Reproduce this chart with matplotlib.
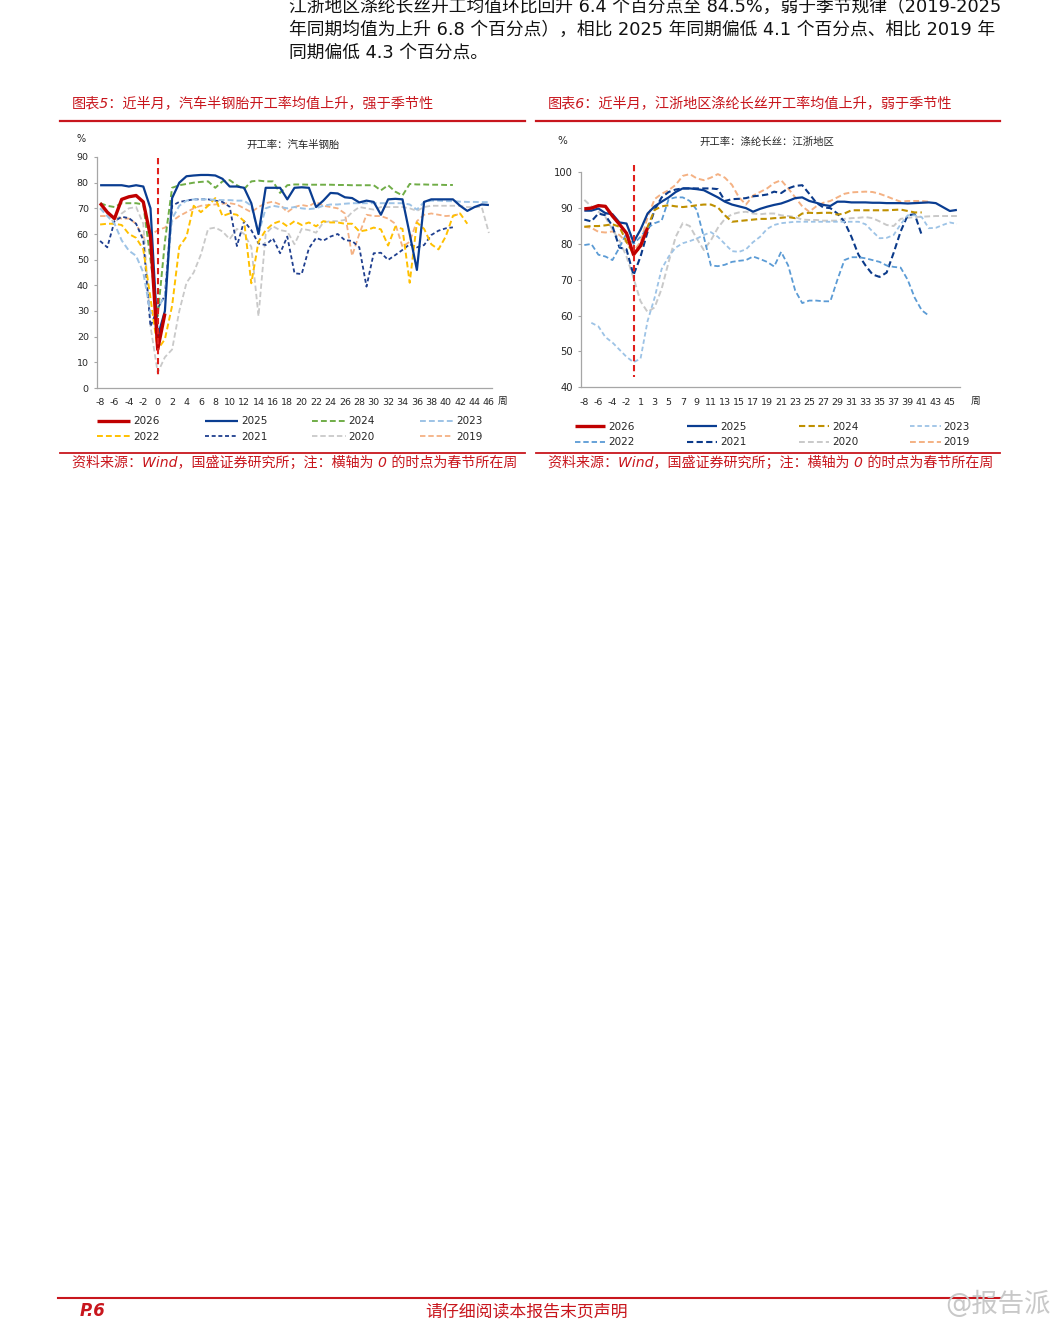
import numpy as np
import matplotlib
matplotlib.use("Agg")
from matplotlib import pyplot as plt
from matplotlib.lines import Line2D

plt.rcParams['font.family'] = ['DejaVu Sans', 'Noto Sans CJK SC']
plt.rcParams['axes.unicode_minus'] = False

W, H = 1061, 1320
RED = '#C8161D'

# ---- left chart data: 汽车半钢胎开工率, weeks -8..46 ----
weeks_l = list(range(-8, 47))
l2026 = [72, 68.5, 66, 73.5, 74.5, 75, 72.5, 59, 15, 29]
l2025 = [79, 79, 79, 79, 78.5, 79, 78.5, 70,
         20, 30, 74, 80, 82.5, 82.8, 83, 83, 82.8, 81.5,
         78.5, 78.5, 78, 72, 60, 78, 78, 78, 73.5, 78,
         78.2, 78, 70.5, 73, 76, 75.8, 74.3, 74, 72.3, 73,
         72.5, 67.5, 73.5, 73.7, 73.5, 60, 46, 72.5, 73.5, 73.5,
         73.5, 73.5, 71, 69, 70.5, 71.5, 71.3]
l2024 = [72, 71, 70.5, 72, 72, 72, 71.5, 50,
         28, 57, 78, 79, 79.5, 80, 80.3, 80.5, 78, 80.5,
         81, 79, 77.5, 80.5, 80.8, 80.5, 80.5, 76, 79, 79.3,
         79.3, 79.2, 79.2, 79.2, 79.2, 79.1, 79.1, 79, 79, 79,
         79, 77, 79, 76.5, 75, 79.5, 79.3, 79.3, 79.2, 79.2,
         79.1, 79.1]
l2023 = [70, 67, 64, 57.5, 53.5, 51.5, 45, 29,
         31, 36, 66, 71, 73, 73.5, 73.5, 73.5, 73.3, 73.2,
         73.2, 73, 73, 71, 60, 70, 71, 70.5, 70, 70.5,
         70, 69.7, 70, 71, 71.5, 71.5, 71.8, 72, 72, 72,
         72, 72, 72, 72, 72, 71.5, 69.5, 72.5, 73, 73,
         72.8, 72.8, 72.6, 72.5, 72.5, 72.4, 72.4]
l2022 = [63.7, 64, 64, 63.5, 60, 58.5, 54, 35,
         15, 19, 32, 55, 59, 71, 68.5, 71, 74, 67,
         68, 67.5, 65, 40.8, 57, 61.5, 64, 65, 63, 65,
         63.5, 64.5, 63, 65, 64.5, 64.5, 64, 64, 61, 61.5,
         62.5, 61.8, 55.5, 62.8, 62, 41, 64.5, 62, 56, 54,
         59, 67, 68, 64]
l2021 = [57.3, 54.8, 65, 66.7, 66.2, 64, 57.6, 24,
         31, 36, 71, 72.5, 73, 73.5, 73.5, 73.5, 73, 72.5,
         70.6, 55.3, 65, 61.5, 56.3, 55.7, 58.3, 52.5, 59, 44.7,
         44.4, 54.4, 58.5, 57.4, 59, 60, 57.6, 57.3, 54.8, 39.5,
         52.5, 52.7, 49.9, 51.8, 53.8, 56, 54.8, 55.7, 59.6, 61.3,
         62.2, 62.6]
l2020 = [70, 68, 64, 68, 70, 70.5, 64, 24,
         6, 12, 15, 30, 41, 45, 52, 62, 62.5, 61,
         58, 62, 60, 55, 28, 60, 63, 61.5, 61, 56,
         62, 61.5, 60.5, 64.5, 65, 65, 65.5, 68.5, 70.5, 70,
         69.5, 70.5, 70.5, 70.5, 70.5, 70, 69, 70.5, 71, 71,
         71, 71, 71, 70.5, 70.5, 70.6, 60.4]
l2019 = [67, 67, 66.5, 66, 66, 64, 58.5, 59.5,
         61.5, 62.5, 65, 67, 68.5, 70, 71, 71.3, 71.5, 71.8,
         72, 71.5, 70, 68.5, 70.5, 72, 72.6, 71.5, 68.5, 70.5,
         71.3, 70.8, 72.5, 71, 70.5, 70, 68, 51.5, 60, 67.5,
         67, 67, 66, 64, 55, 57, 65, 67.5, 68, 67.5,
         67, 67.2, 67.8]

# ---- right chart data: 涤纶长丝江浙地区开工率, weeks -8..-1, 1..46 ----
weeks_r = list(range(-8, 0)) + list(range(1, 47))
r2026 = [89.8, 90.0, 90.7, 90.5, 87.8, 85.5, 83, 77, 79.5, 84.5]
r2025 = [89.3, 89.3, 89.9, 88.6, 88.3, 86, 85.7, 80.5, 84, 88.5,
         90.5, 91.8, 93, 94.5, 95.5, 95.5, 95.3, 95, 94, 93,
         91.8, 91, 90.5, 90, 89, 89.8, 90.4, 90.9, 91.3, 92,
         92.8, 93, 92, 91.5, 90.9, 90.6, 91.8, 91.8, 91.6, 91.6,
         91.6, 91.5, 91.5, 91.4, 91.4, 91.4, 91.3, 91.4, 91.5, 91.6,
         91.4, 90.3, 89.2, 89.5]
r2024 = [84.8, 85, 85, 85.2, 85.5, 84.8, 80.6, 77.2, 79, 84.8,
         89.5, 90.5, 90.8, 90.5, 90.3, 90.5, 90.8, 91, 91, 90.2,
         88, 86.2, 86.4, 86.6, 86.8, 87, 87, 87.2, 87.3, 87.5,
         87.2, 88.5, 88.7, 88.6, 88.7, 88.7, 88.2, 88.5, 89.4, 89.4,
         89.4, 89.4, 89.4, 89.4, 89.5, 89.6, 89.2, 88.8, 88.8]
r2023 = [np.nan, 58, 57, 54, 52.5, 50.5, 48.5, 47, 48, 58.5,
         65, 73, 76.5, 79, 80.2, 80.8, 81.5, 82.5, 83.3, 82,
         80, 78, 77.8, 78.5, 80.5, 82, 84.2, 85.3, 85.8, 86,
         86.2, 86.2, 86.2, 86.2, 86.2, 86.2, 86.2, 86.2, 86.2, 86.2,
         85.5, 83.5, 81.6, 81.7, 82.5, 85.5, 88, 88, 87.5, 84.4,
         84.5, 85.3, 86, 85.6]
r2022 = [79.7, 80, 77, 76.5, 75.5, 79, 83, 80, 82, 84.5,
         85.8, 86.5, 92.5, 93, 93, 92, 89.5, 82, 74, 73.8,
         74.2, 75, 75.3, 75.5, 76.5, 75.8, 75, 73.7, 77.8, 74,
         67, 63.5, 64.2, 64.2, 64, 64, 70, 75.5, 76.3, 76.3,
         76, 75.5, 75, 74, 73.6, 73.4, 70, 65, 61.5, 60]
r2021 = [86.8, 86.3, 88.5, 88, 85, 79, 78.5, 71.3, 76.5, 83.4,
         89.5, 93, 94.5, 95.2, 95.5, 95.5, 95.5, 95.5, 95.5, 95.3,
         92, 92.5, 92.6, 92.8, 93.3, 93.5, 93.8, 94.6, 94.2, 95.5,
         96.2, 96.4, 94, 91.5, 90.2, 90, 88.5, 86.2, 82, 77,
         74, 71.5, 70.8, 72, 77.5, 83.5, 88, 88.3, 82.5]
r2020 = [92.3, 90.5, 89, 87.5, 84, 81, 76.5, 70.5, 64, 61,
         62.3, 67.5, 75, 82, 85.8, 85, 81.5, 78.3, 81, 84.5,
         87, 88.3, 88.8, 89, 88.5, 88.3, 88.5, 88.5, 88, 87.8,
         87.5, 86.8, 86.7, 86.7, 86.5, 86.5, 86.5, 87, 87.2, 87.3,
         87.5, 87.2, 86.3, 85.3, 85, 87, 87.3, 87.5, 87.6, 87.7,
         87.8, 87.8, 87.8, 87.8]
r2019 = [84.8, 84.5, 83.4, 83.2, 83.5, 82.5, 80.5, 78, 80.5, 87.5,
         92.5, 94, 95, 96.5, 99, 99.5, 98.3, 97.8, 98.5, 99.5,
         98.5, 96.5, 93, 91, 93.5, 94.5, 95.5, 97, 97.8, 95.5,
         93, 90.5, 89, 90.5, 91.5, 92, 93, 94, 94.4, 94.5,
         94.6, 94.5, 94, 93.3, 92.5, 91.8, 92, 92, 92, 91.8]

years = ['2026', '2025', '2024', '2023', '2022', '2021', '2020', '2019']


def box(l, t, r, b):
    return [l / W, 1 - b / H, (r - l) / W, (b - t) / H]


def hline(x0, x1, y, lw, color=RED):
    fig.add_artist(Line2D([x0 / W, x1 / W], [1 - y / H, 1 - y / H],
                          color=color, lw=lw, transform=fig.transFigure))


def style_axes(ax):
    for s in ['top', 'right']:
        ax.spines[s].set_visible(False)
    for s in ['left', 'bottom']:
        ax.spines[s].set_color('#A6A6A6')
        ax.spines[s].set_linewidth(0.9)
    ax.tick_params(axis='y', direction='out', length=2.5, width=0.8,
                   color='#A6A6A6', labelsize=6.8, labelcolor='#262626', pad=3)
    ax.tick_params(axis='x', length=0, labelsize=6.8, labelcolor='#262626', pad=7)


def draw_series(ax, x, series, styles):
    handles = {}
    for yr in years:
        vals = series[yr]
        color, lw, dash, z = styles[yr]
        ln, = ax.plot(x[:len(vals)], vals, color=color, lw=lw, zorder=z,
                      solid_capstyle='butt', dash_capstyle='butt')
        if dash is not None:
            ln.set_linestyle((0, dash))
        handles[yr] = ln
    return handles


def add_legend(ax, handles, x0, y0, colsp, hlen):
    order = ['2026', '2022', '2025', '2021', '2024', '2020', '2023', '2019']
    leg = ax.legend([handles[k] for k in order], order, ncol=4, frameon=False,
                    loc='upper left', bbox_to_anchor=(x0 / W, 1 - y0 / H),
                    bbox_transform=fig.transFigure, fontsize=7.5,
                    handlelength=hlen, handletextpad=0.3, columnspacing=colsp,
                    labelspacing=0.5, borderpad=0, borderaxespad=0)
    for t in leg.get_texts():
        t.set_color('#262626')


fig = plt.figure(figsize=(W / 100, H / 100), dpi=100)

# ---- body text above charts ----
body = ['江浙地区涤纶长丝开工均值环比回升 6.4 个百分点至 84.5%，弱于季节规律（2019-2025',
        '年同期均值为上升 6.8 个百分点），相比 2025 年同期偏低 4.1 个百分点、相比 2019 年',
        '同期偏低 4.3 个百分点。']
for i, line in enumerate(body):
    fig.text(289 / W, 1 - (7 + 23 * i) / H, line, fontsize=12.8,
             color='#111111', va='center', ha='left')

# ---- chart headers ----
fig.text(72 / W, 1 - 104 / H, '图表5：近半月，汽车半钢胎开工率均值上升，强于季节性',
         fontsize=10.2, color=RED, va='center', style='italic')
fig.text(548 / W, 1 - 104 / H, '图表6：近半月，江浙地区涤纶长丝开工率均值上升，弱于季节性',
         fontsize=10.2, color=RED, va='center', style='italic')
hline(60, 525, 121, 1.6)
hline(536, 1000, 121, 1.6)
hline(60, 525, 453, 1.3)
hline(536, 1000, 453, 1.3)
src = '资料来源：Wind，国盛证券研究所；注：横轴为 0 的时点为春节所在周'
fig.text(72 / W, 1 - 463 / H, src, fontsize=10.1, color=RED, va='center', style='italic')
fig.text(548 / W, 1 - 463 / H, src, fontsize=10.1, color=RED, va='center', style='italic')

# ---- left chart ----
ax1 = fig.add_axes(box(96.5, 157, 492.5, 388))
xl = np.array(weeks_l)
styles_l = {
    '2026': ('#C00000', 2.4, None, 10),
    '2025': ('#0A3D91', 1.6, None, 9),
    '2024': ('#70AD47', 1.4, (3, 1.6), 8),
    '2023': ('#9DC3E6', 1.4, (3, 1.6), 7),
    '2022': ('#FFC000', 1.4, (3, 1.6), 6),
    '2021': ('#1F3F8F', 1.3, (2.2, 1.5), 5),
    '2020': ('#C9C9C9', 1.3, (3, 1.6), 4),
    '2019': ('#F4B183', 1.3, (3, 1.6), 3),
}
ser_l = dict(zip(years, [l2026, l2025, l2024, l2023, l2022, l2021, l2020, l2019]))
hl = draw_series(ax1, xl, ser_l, styles_l)
ax1.plot([0, 0], [89.5, 4], color='#E0201C', lw=1.5, dashes=(3, 1.8),
         clip_on=False, zorder=11)
ax1.set_xlim(-8.5, 46.5)
ax1.set_ylim(0, 90)
ax1.set_yticks(range(0, 91, 10))
ax1.set_xticks(range(-8, 47, 2))
style_axes(ax1)
fig.text(81 / W, 1 - 139 / H, '%', fontsize=7, color='#262626', ha='center', va='center')
fig.text(293 / W, 1 - 145 / H, '开工率：汽车半钢胎', fontsize=7.5, color='#262626',
         ha='center', va='center')
fig.text(503 / W, 1 - 401 / H, '周', fontsize=7, color='#262626', ha='center', va='center')
add_legend(ax1, hl, 97, 416.5, 4.3, 3.2)

# ---- right chart ----
ax2 = fig.add_axes(box(580.8, 172.3, 960.4, 387.3))
xr = np.arange(len(weeks_r))
styles_r = {
    '2026': ('#C00000', 2.4, None, 10),
    '2025': ('#0A3D91', 1.6, None, 9),
    '2024': ('#BF9000', 1.5, (3, 1.6), 8),
    '2023': ('#9DC3E6', 1.3, (2.5, 1.6), 7),
    '2022': ('#5B9BD5', 1.3, (3, 1.6), 6),
    '2021': ('#0B3A8A', 1.5, (3, 1.6), 5),
    '2020': ('#C9C9C9', 1.4, (3, 1.6), 4),
    '2019': ('#F4B183', 1.4, (3, 1.6), 3),
}
ser_r = dict(zip(years, [r2026, r2025, r2024, r2023, r2022, r2021, r2020, r2019]))
hr = draw_series(ax2, xr, ser_r, styles_r)
ax2.plot([7, 7], [102, 43], color='#E0201C', lw=1.5, dashes=(3, 1.8),
         clip_on=False, zorder=11)
ax2.set_xlim(-0.5, len(weeks_r) - 0.5)
ax2.set_ylim(40, 100)
ax2.set_yticks(range(40, 101, 10))
ax2.set_xticks(xr[::2])
ax2.set_xticklabels([str(w) for w in weeks_r[::2]])
style_axes(ax2)
ax2.tick_params(axis='x', pad=8)
ax2.tick_params(axis='y', labelsize=7.2)
fig.text(562 / W, 1 - 141 / H, '%', fontsize=7.5, color='#262626', ha='center', va='center')
fig.text(767 / W, 1 - 142 / H, '开工率：涤纶长丝：江浙地区', fontsize=7.5, color='#262626',
         ha='center', va='center')
fig.text(976 / W, 1 - 401 / H, '周', fontsize=7, color='#262626', ha='center', va='center')
add_legend(ax2, hr, 575, 422, 5.0, 2.9)

# ---- footer ----
hline(58, 1000, 1298, 1.5)
fig.text(80 / W, 1 - 1311 / H, 'P.6', fontsize=12, color=RED, fontweight='bold',
         style='italic', va='center')
fig.text(527 / W, 1 - 1311 / H, '请仔细阅读本报告末页声明', fontsize=12.2, color=RED,
         ha='center', va='center')
fig.text(998 / W, 1 - 1304 / H, '@报告派', fontsize=19, color='#C8C8C8',
         ha='center', va='center')

fig.savefig('out.png', dpi=100)
